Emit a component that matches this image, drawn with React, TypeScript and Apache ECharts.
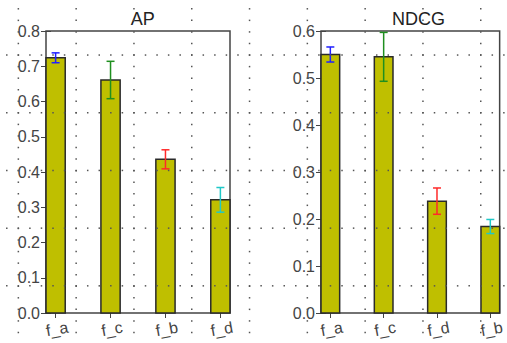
import React, { useEffect, useRef } from "react";
import * as echarts from "echarts";

const apCategories = ["f_a", "f_c", "f_b", "f_d"];
const apValues = [0.724, 0.661, 0.436, 0.321];
const apErrors = [0.014, 0.053, 0.027, 0.035];

const ndcgCategories = ["f_a", "f_c", "f_d", "f_b"];
const ndcgValues = [0.55, 0.545, 0.238, 0.184];
const ndcgErrors = [0.016, 0.052, 0.028, 0.015];

const errorColors = ["#2020ff", "#1f8f1f", "#ff2a2a", "#20c8c8"];
const apYTicks = [0, 0.8, 0.1];
const ndcgYTicks = [0, 0.6, 0.1];

const BAR_W = 0.35;
const X_MAX = 3.35;
const FONT = "'Liberation Sans', Arial, sans-serif";

function makeDots() {
  const els: any[] = [];
  const rows = [55, 112.7, 170.4, 228.1, 285.8];
  const cols = [18.3, 76.1, 133.9, 191.7, 249.5, 307.3, 365.1, 422.9, 480.7];
  const step = 11.56;
  rows.forEach((y) => {
    for (let x = 18.3 - step; x < 507; x += step) {
      els.push({ type: "rect", shape: { x: x - 0.7, y: y - 0.7, width: 1.5, height: 1.5 }, style: { fill: "#555" }, silent: true, z: 100 });
    }
  });
  cols.forEach((x) => {
    for (let y = 55 - 4 * step; y < 343; y += step) {
      els.push({ type: "rect", shape: { x: x - 0.7, y: y - 0.7, width: 1.5, height: 1.5 }, style: { fill: "#555" }, silent: true, z: 100 });
    }
  });
  return els;
}

function renderBar(params: any, api: any) {
  const x0 = api.value(0);
  const v = api.value(1);
  const e = api.value(2);
  const ci = api.value(3);
  const p0 = api.coord([x0, 0]);
  const p1 = api.coord([x0 + BAR_W, v]);
  const top = api.coord([x0 + BAR_W / 2, v + e]);
  const bot = api.coord([x0 + BAR_W / 2, v - e]);
  const col = errorColors[ci];
  const cap = 4;
  return {
    type: "group",
    children: [
      {
        type: "rect",
        shape: { x: p0[0], y: p1[1], width: p1[0] - p0[0], height: p0[1] - p1[1] },
        style: { fill: "#bfbf00", stroke: "#2a2a2a", lineWidth: 1.5 },
      },
      { type: "line", shape: { x1: top[0], y1: top[1], x2: bot[0], y2: bot[1] }, style: { stroke: col, lineWidth: 1.5 } },
      { type: "line", shape: { x1: top[0] - cap, y1: top[1], x2: top[0] + cap, y2: top[1] }, style: { stroke: col, lineWidth: 1.5 } },
      { type: "line", shape: { x1: bot[0] - cap, y1: bot[1], x2: bot[0] + cap, y2: bot[1] }, style: { stroke: col, lineWidth: 1.5 } },
    ],
  };
}

function axesFor(gridIndex: number, cats: string[], yt: number[]) {
  const tickVals = cats.map((_, i) => i + BAR_W / 2);
  const tickStyle = { show: true, inside: true, length: 5, lineStyle: { color: "#444", width: 1 } };
  const xAxes = [
    {
      type: "value", gridIndex, min: 0, max: X_MAX, position: "bottom",
      axisLine: { show: false }, splitLine: { show: false },
      axisTick: { ...tickStyle, customValues: tickVals },
      axisLabel: {
        customValues: tickVals, rotate: 10, align: "center", verticalAlign: "top", margin: 8,
        color: "#444", fontSize: 16, fontFamily: FONT,
        formatter: (v: number) => cats[Math.round(v - BAR_W / 2)] ?? "",
      },
    },
    {
      type: "value", gridIndex, min: 0, max: X_MAX, position: "top",
      axisLine: { show: false }, splitLine: { show: false },
      axisTick: { ...tickStyle, customValues: tickVals },
      axisLabel: { show: false },
    },
  ];
  const yAxes = [
    {
      type: "value", gridIndex, min: yt[0], max: yt[1], interval: yt[2], position: "left",
      axisLine: { show: false }, splitLine: { show: false },
      axisTick: tickStyle,
      axisLabel: { color: "#444", fontSize: 16, fontFamily: FONT, margin: 6, formatter: (v: number) => v.toFixed(1) },
    },
    {
      type: "value", gridIndex, min: yt[0], max: yt[1], interval: yt[2], position: "right",
      axisLine: { show: false }, splitLine: { show: false },
      axisTick: tickStyle,
      axisLabel: { show: false },
    },
  ];
  return { xAxes, yAxes };
}

export default function App() {
  const ref = useRef<HTMLDivElement>(null);
  useEffect(() => {
    if (!ref.current) return;
    const chart = echarts.init(ref.current, null, { renderer: "svg" });
    const a = axesFor(0, apCategories, apYTicks);
    const b = axesFor(1, ndcgCategories, ndcgYTicks);
    chart.setOption({
      animation: false,
      backgroundColor: "#fff",
      title: [
        { text: "AP", left: 137.8, top: 5, textAlign: "center", textStyle: { fontSize: 18, fontWeight: "normal", color: "#222", fontFamily: FONT } },
        { text: "NDCG", left: 413.5, top: 5, textAlign: "center", textStyle: { fontSize: 18, fontWeight: "normal", color: "#222", fontFamily: FONT } },
      ],
      grid: [
        { left: 46, top: 31, width: 184, height: 282, show: true, borderColor: "#444", borderWidth: 1.5, backgroundColor: "transparent" },
        { left: 321, top: 31, width: 185, height: 282, show: true, borderColor: "#444", borderWidth: 1.5, backgroundColor: "transparent" },
      ],
      xAxis: [...a.xAxes, ...b.xAxes],
      yAxis: [...a.yAxes, ...b.yAxes],
      series: [
        {
          type: "custom", xAxisIndex: 0, yAxisIndex: 0, renderItem: renderBar,
          data: apValues.map((v, i) => [i, v, apErrors[i], i]),
        },
        {
          type: "custom", xAxisIndex: 2, yAxisIndex: 2, renderItem: renderBar,
          data: ndcgValues.map((v, i) => [i, v, ndcgErrors[i], i]),
        },
      ],
      graphic: makeDots(),
    });
    return () => chart.dispose();
  }, []);
  return <div ref={ref} style={{ position: "fixed", left: 0, top: 0, width: 507, height: 343 }} />;
}
